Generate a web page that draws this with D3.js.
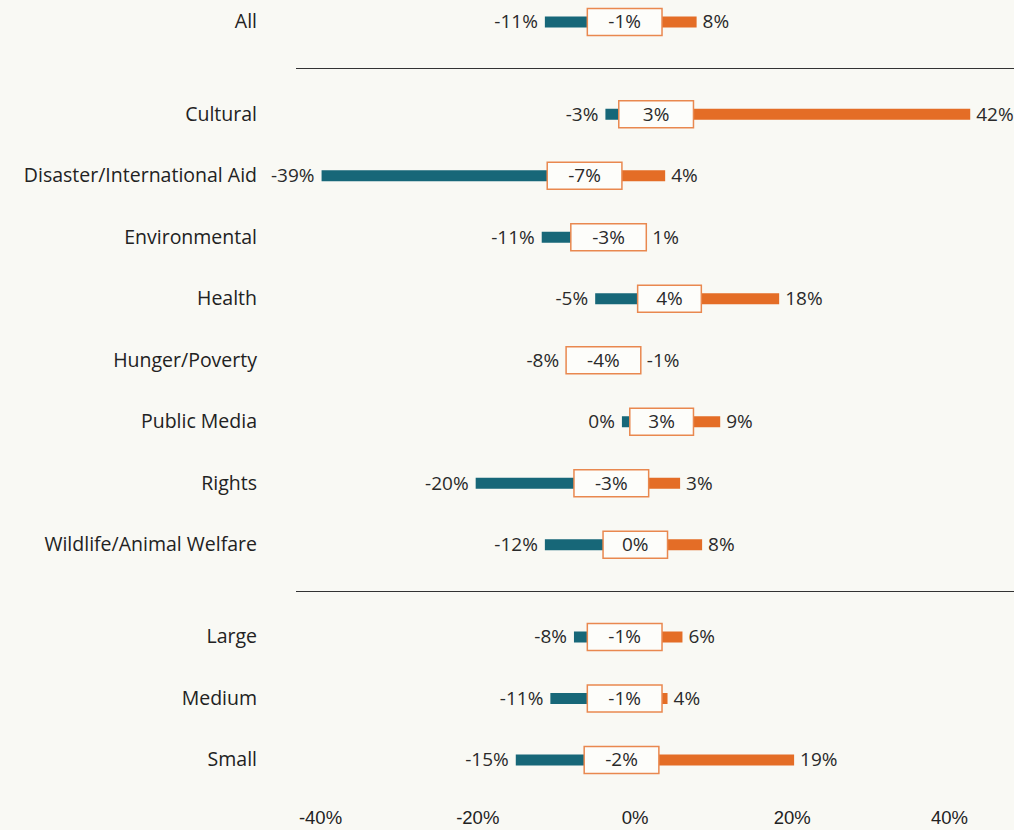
<!DOCTYPE html>
<html>
<head>
<meta charset="utf-8">
<script src="https://cdn.jsdelivr.net/npm/d3@7"></script>
<style>
  body { margin: 0; background: #f9f9f4; }
  svg { display: block; font-family: 'Open Sans', Lato, sans-serif; }
  .row-label { font-size: 19.5px; fill: #222; }
  .val { font-size: 19px; fill: #2a2a2a; }
  .med { font-size: 19px; fill: #2a2a2a; }
  .axis text { font-size: 18.5px; fill: #222; }
</style>
</head>
<body>
<svg id="chart"></svg>
<script>
const w = 1014, h = 830;
const margin = { left: 296, right: 0, top: 22, bottom: 70 };
const lowColor = '#176778', highColor = '#e46d26', boxColor = '#e9884f';

// rows, grouped by section (All / cause / size)
const categories = ['All', 'Cultural', 'Disaster/International Aid', 'Environmental', 'Health',
  'Hunger/Poverty', 'Public Media', 'Rights', 'Wildlife/Animal Welfare', 'Large', 'Medium', 'Small'];
const groups = [0, 1, 1, 1, 1, 1, 1, 1, 1, 2, 2, 2];

// bar ends and box edges, in percent
const minVals = [-11.4, -3.7, -39.8, -11.8, -5.0, -8.7, -1.6, -20.2, -11.4, -7.7, -10.7, -15.1];
const q1Vals  = [-6.0, -2.0, -11.1, -8.1, 0.4, -8.7, -0.6, -7.7, -4.0, -6.0, -6.0, -6.4];
const q3Vals  = [3.5, 7.5, -1.6, 1.5, 8.5, 0.8, 7.5, 1.8, 4.2, 3.5, 3.5, 3.1];
const maxVals = [7.9, 42.7, 3.9, 1.5, 18.4, 0.8, 10.9, 5.8, 8.6, 6.1, 4.2, 20.3];

// printed labels
const minLabels = [-11, -3, -39, -11, -5, -8, 0, -20, -12, -8, -11, -15];
const medLabels = [-1, 3, -7, -3, 4, -4, 3, -3, 0, -1, -1, -2];
const maxLabels = [8, 42, 4, 1, 18, -1, 9, 3, 8, 6, 4, 19];

const xTicks = [-40, -20, 0, 20, 40];

// slot positions: a 1.5 step where the section changes
const slots = [];
groups.forEach((g, i) => {
  if (i === 0) slots.push(0);
  else slots.push(slots[i - 1] + (g !== groups[i - 1] ? 1.5 : 1));
});

const dataset = categories.map((c, i) => ({
  name: c, slot: slots[i], group: groups[i],
  min: minVals[i], q1: q1Vals[i], q3: q3Vals[i], max: maxVals[i],
  minLabel: minLabels[i], medLabel: medLabels[i], maxLabel: maxLabels[i]
}));

const chart = d3.select('#chart').attr('width', w).attr('height', h);

chart.append('rect').attr('width', w).attr('height', h).attr('fill', '#f9f9f4');

const xScale = d3.scaleLinear().domain([-40, 40]).range([320, 949]);
const yScale = d3.scaleLinear()
  .domain([0, d3.max(slots)])
  .range([margin.top, h - margin.bottom]);

const pct = d => `${d}%`;
const barH = 11, boxH = 27;

// separators between sections
const seps = [];
dataset.forEach((d, i) => {
  if (i > 0 && d.group !== dataset[i - 1].group) seps.push((d.slot + dataset[i - 1].slot) / 2);
});
chart.selectAll('.sep')
  .data(seps)
  .enter()
  .append('line')
  .attr('x1', margin.left).attr('x2', w)
  .attr('y1', d => Math.round(yScale(d)) + 0.5)
  .attr('y2', d => Math.round(yScale(d)) + 0.5)
  .attr('stroke', '#333')
  .attr('stroke-width', 1);

const rows = chart.selectAll('.row')
  .data(dataset)
  .enter()
  .append('g')
  .attr('class', 'row')
  .attr('transform', d => `translate(0, ${yScale(d.slot)})`);

rows.append('text')
  .attr('class', 'row-label')
  .attr('x', 257)
  .attr('dy', '0.33em')
  .attr('text-anchor', 'end')
  .text(d => d.name);

// low tail
rows.filter(d => d.min < d.q1)
  .append('rect')
  .attr('x', d => xScale(d.min))
  .attr('y', -barH / 2)
  .attr('width', d => xScale(d.q1) - xScale(d.min))
  .attr('height', barH)
  .attr('fill', lowColor);

// high tail
rows.filter(d => d.max > d.q3)
  .append('rect')
  .attr('x', d => xScale(d.q3))
  .attr('y', -barH / 2)
  .attr('width', d => xScale(d.max) - xScale(d.q3))
  .attr('height', barH)
  .attr('fill', highColor);

// middle box
rows.append('rect')
  .attr('x', d => xScale(d.q1))
  .attr('y', -boxH / 2)
  .attr('width', d => xScale(d.q3) - xScale(d.q1))
  .attr('height', boxH)
  .attr('fill', '#fdfdfa')
  .attr('stroke', boxColor)
  .attr('stroke-width', 1.5);

rows.append('text')
  .attr('class', 'med')
  .attr('x', d => (xScale(d.q1) + xScale(d.q3)) / 2)
  .attr('dy', '0.33em')
  .attr('text-anchor', 'middle')
  .text(d => pct(d.medLabel));

rows.append('text')
  .attr('class', 'val')
  .attr('x', d => xScale(Math.min(d.min, d.q1)) - 7)
  .attr('dy', '0.33em')
  .attr('text-anchor', 'end')
  .text(d => pct(d.minLabel));

rows.append('text')
  .attr('class', 'val')
  .attr('x', d => xScale(Math.max(d.max, d.q3)) + 6)
  .attr('dy', '0.33em')
  .attr('text-anchor', 'start')
  .text(d => pct(d.maxLabel));

// x axis, labels only
const axis = chart.append('g')
  .attr('class', 'axis')
  .attr('transform', `translate(0, 818)`)
  .call(d3.axisBottom(xScale).tickValues(xTicks).tickFormat(pct).tickSize(0));
axis.select('.domain').remove();
axis.selectAll('text').attr('y', 0).attr('dy', '0.35em');
</script>
</body>
</html>
